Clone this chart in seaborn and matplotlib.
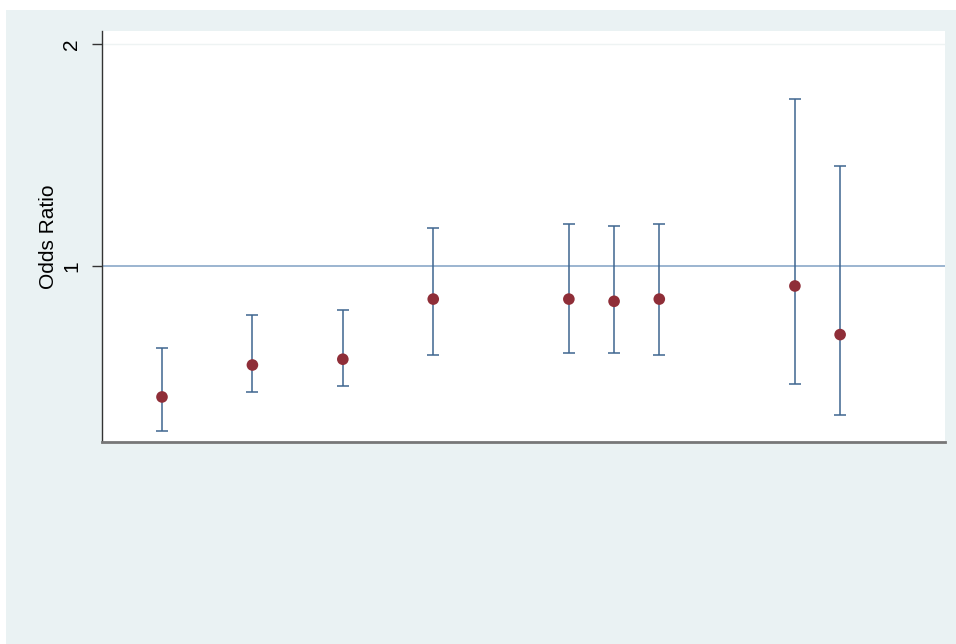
import numpy as np
import pandas as pd
import seaborn as sns
import matplotlib.pyplot as plt
from matplotlib.patches import Rectangle

# estimates
positions = [1, 3, 5, 7, 10, 11, 12, 15, 16]
odds_ratio = [0.410, 0.554, 0.580, 0.851, 0.851, 0.841, 0.851, 0.910, 0.691]
ci_lower = [0.257, 0.432, 0.458, 0.600, 0.608, 0.608, 0.600, 0.468, 0.329]
ci_upper = [0.631, 0.779, 0.800, 1.171, 1.189, 1.180, 1.189, 1.751, 1.450]
ytick_values = [1, 2]
ytick_labels = ["1", "2"]

BG = "#EAF2F3"
CI_COLOR = "#3F6690"
PT_COLOR = "#8F2E38"
REF_COLOR = "#8AA8C8"

sns.set_style("white")
plt.rcParams["font.family"] = ["Liberation Sans", "DejaVu Sans"]
plt.rcParams["text.color"] = "black"
plt.rcParams["axes.labelcolor"] = "black"
plt.rcParams["ytick.color"] = "black"

df = pd.DataFrame({"pos": positions, "or": odds_ratio,
                   "lo": ci_lower, "hi": ci_upper})

fig = plt.figure(figsize=(9.56, 6.44), dpi=100)
fig.patch.set_facecolor("white")
fig.patches.append(Rectangle((6 / 956, 0), 1, 1 - 10 / 644, transform=fig.transFigure,
                             facecolor=BG, edgecolor="none", zorder=-10))

ax = fig.add_axes([102 / 956, 1 - 442 / 644, (945 - 102) / 956, (442 - 31) / 644])
ax.set_facecolor("white")

ax.axhline(2, color="#EEF3F3", lw=1, zorder=0)
ax.axhline(1, color=REF_COLOR, lw=1.2, zorder=1)

ax.errorbar(df["pos"], df["or"],
            yerr=[df["or"] - df["lo"], df["hi"] - df["or"]],
            fmt="none", ecolor=CI_COLOR, elinewidth=1.1, capsize=4,
            capthick=1.1, zorder=2)
sns.scatterplot(data=df, x="pos", y="or", ax=ax, color=PT_COLOR, s=70,
                edgecolor="none", zorder=3, legend=False)

ax.set_xlim(1 - 1.327, 16 + 2.32)
ax.set_ylim(0.207, 2.059)
ax.set_xticks([])
ax.set_yticks(ytick_values)
ax.set_yticklabels(ytick_labels, rotation=90, va="center", fontsize=15)
ax.tick_params(axis="y", direction="out", length=7, width=1, color="#333333",
               pad=8, left=True)
ax.set_xlabel("")
ax.set_ylabel("Odds Ratio", fontsize=15, labelpad=3)

for side in ["top", "right"]:
    ax.spines[side].set_visible(False)
ax.spines["left"].set_color("#333333")
ax.spines["left"].set_linewidth(1)
ax.spines["bottom"].set_color("#777777")
ax.spines["bottom"].set_linewidth(2)

fig.savefig("out.png", dpi=100, facecolor=fig.get_facecolor())
